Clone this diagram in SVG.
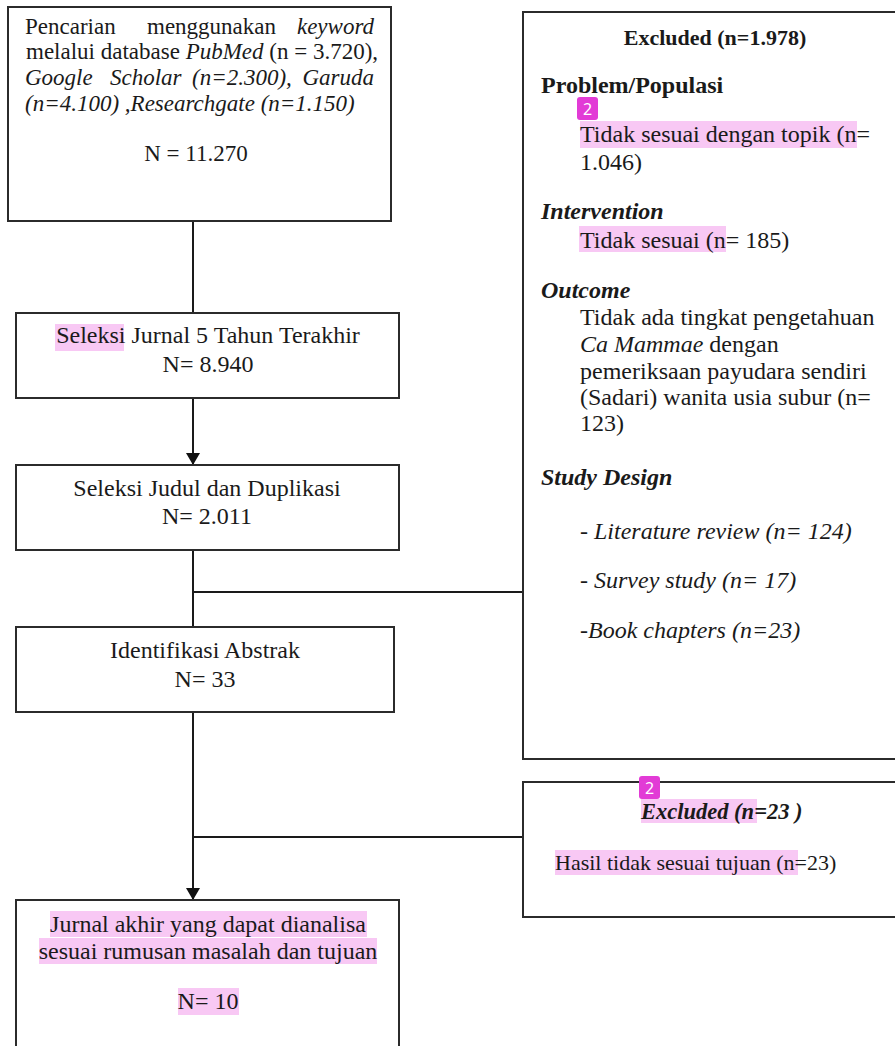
<svg xmlns="http://www.w3.org/2000/svg" width="895" height="1046" viewBox="0 0 895 1046">
<defs>
<style>
.box{fill:#fff;stroke:#2b2b2b;stroke-width:2}
.t{font-family:"Liberation Serif","Times New Roman",serif;font-size:24px;fill:#1a1a1a}
.s{font-size:23px}
.c{text-anchor:middle}
.e{text-anchor:end}
.b{font-weight:bold}
.i{font-style:italic}
.hl{fill:#f8c8f4}
.badge{fill:#e23bd6}
.bt{font-family:"Noto Sans","DejaVu Sans",sans-serif;font-size:16px;fill:#fff;text-anchor:middle}
.ln{stroke:#1a1a1a;stroke-width:2;fill:none}
</style>
<marker id="arr" viewBox="0 0 12 14" refX="12" refY="7" markerWidth="12" markerHeight="14" markerUnits="userSpaceOnUse" orient="auto">
<path d="M0,0 L12,7 L0,14 Z" fill="#111"/>
</marker>
</defs>
<rect width="895" height="1046" fill="#fff"/>

<g id="connectors">
<line class="ln" x1="193" y1="221" x2="193" y2="313"/>
<line class="ln" x1="193" y1="398" x2="193" y2="465" marker-end="url(#arr)"/>
<line class="ln" x1="193" y1="550" x2="193" y2="627"/>
<line class="ln" x1="193" y1="592" x2="523" y2="592"/>
<line class="ln" x1="193" y1="712" x2="193" y2="900" marker-end="url(#arr)"/>
<line class="ln" x1="193" y1="837" x2="523" y2="837"/>
</g>

<g id="search">
<rect class="box" x="8" y="7" width="383" height="214"/>
<text class="t s" x="25" y="34">Pencarian</text>
<text class="t s" x="147" y="34">menggunakan</text>
<text class="t s e i" x="374" y="34">keyword</text>
<text class="t s" x="26" y="59">melalui database <tspan class="i">PubMed</tspan> (n = 3.720),</text>
<text class="t s i" x="25" y="85">Google</text>
<text class="t s i" x="110" y="85">Scholar</text>
<text class="t s i" x="192" y="85">(n=2.300),</text>
<text class="t s i e" x="374" y="85">Garuda</text>
<text class="t s i" x="25" y="111">(n=4.100) ,Researchgate (n=1.150)</text>
<text class="t s c" x="196" y="161">N = 11.270</text>
</g>

<g id="seleksi5">
<rect class="box" x="16" y="313" width="383" height="85"/>
<rect class="hl" x="55" y="324" width="69" height="27"/>
<text class="t c" x="208" y="343">Seleksi Jurnal 5 Tahun Terakhir</text>
<text class="t c" x="208" y="372">N= 8.940</text>
</g>

<g id="seleksiJudul">
<rect class="box" x="16" y="465" width="383" height="85"/>
<text class="t c" x="207" y="496">Seleksi Judul dan Duplikasi</text>
<text class="t c" x="207" y="524">N= 2.011</text>
</g>

<g id="abstrak">
<rect class="box" x="16" y="627" width="378" height="85"/>
<text class="t c" x="205" y="658">Identifikasi Abstrak</text>
<text class="t c" x="205" y="687">N= 33</text>
</g>

<g id="final">
<rect class="box" x="16" y="900" width="383" height="160"/>
<rect class="hl" x="50" y="911" width="317" height="26"/>
<rect class="hl" x="39" y="938" width="338" height="26"/>
<rect class="hl" x="178" y="988" width="61" height="27"/>
<text class="t c" x="208" y="932">Jurnal akhir yang dapat dianalisa</text>
<text class="t c" x="208" y="959">sesuai rumusan masalah dan tujuan</text>
<text class="t c" x="208" y="1009">N= 10</text>
</g>

<g id="excluded1">
<rect class="box" x="523" y="12" width="380" height="747"/>
<text class="t b c" x="715" y="45" style="font-size:22px">Excluded (n=1.978)</text>
<text class="t b" x="541" y="93">Problem/Populasi</text>
<rect class="hl" x="580" y="121" width="277" height="27"/>
<rect class="badge" x="577" y="97" width="21" height="23" rx="3"/>
<text class="bt" x="587.5" y="115">2</text>
<text class="t" x="580" y="142">Tidak sesuai dengan topik (n=</text>
<text class="t" x="580" y="170">1.046)</text>
<text class="t b i" x="541" y="219">Intervention</text>
<rect class="hl" x="579" y="226" width="147" height="26"/>
<text class="t" x="580" y="248">Tidak sesuai (n= 185)</text>
<text class="t b i" x="541" y="298">Outcome</text>
<text class="t" x="580" y="325">Tidak ada tingkat pengetahuan</text>
<text class="t" x="580" y="352"><tspan class="i">Ca Mammae</tspan> dengan</text>
<text class="t" x="580" y="379">pemeriksaan payudara sendiri</text>
<text class="t" x="580" y="405">(Sadari) wanita usia subur (n=</text>
<text class="t" x="580" y="431">123)</text>
<text class="t b i" x="541" y="485">Study Design</text>
<text class="t i" x="580" y="539">- Literature review (n= 124)</text>
<text class="t i" x="580" y="588">- Survey study (n= 17)</text>
<text class="t i" x="580" y="638">-Book chapters (n=23)</text>
</g>

<g id="excluded2">
<rect class="box" x="523" y="782" width="380" height="135"/>
<rect class="hl" x="641" y="799" width="116" height="24"/>
<rect class="badge" x="639" y="776" width="21" height="23" rx="3"/>
<text class="bt" x="649.5" y="794">2</text>
<text class="t b i" x="641" y="819" style="font-size:22.5px">Excluded  (n=23 )</text>
<rect class="hl" x="555" y="850" width="243" height="25"/>
<text class="t" x="555" y="870" style="font-size:22px">Hasil tidak sesuai tujuan  (n=23)</text>
</g>
</svg>
